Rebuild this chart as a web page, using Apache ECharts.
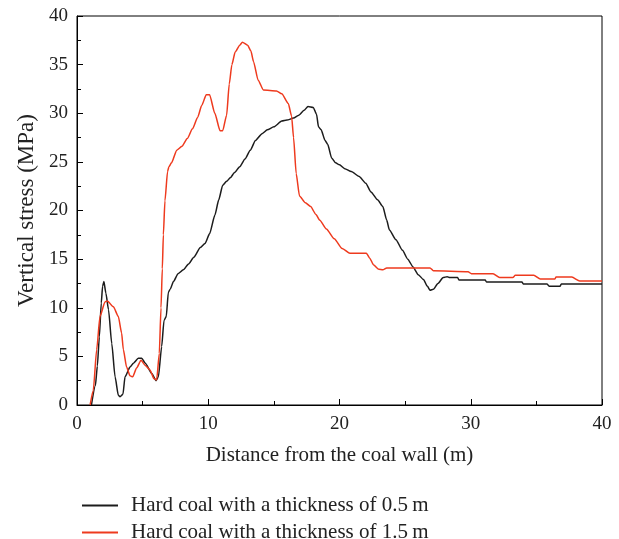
<!DOCTYPE html>
<html>
<head>
<meta charset="utf-8">
<script src="https://cdn.jsdelivr.net/npm/echarts@6/dist/echarts.min.js"></script>
<style>
  html, body { margin: 0; padding: 0; background: #fff; }
  #chart { width: 619px; height: 539px; }
</style>
</head>
<body>
<div id="chart"></div>
<script>
// Vertical stress profiles ahead of the coal wall for two hard-coal thicknesses
const seriesNames = ['Hard coal with a thickness of 0.5\u2009m', 'Hard coal with a thickness of 1.5\u2009m'];
const xTicks = [0, 10, 20, 30, 40];
const yTicks = [0, 5, 10, 15, 20, 25, 30, 35, 40];

// [distance (m), vertical stress (MPa)]
const thin05 = [
  [1.1, 0], [1.4, 2], [1.55, 4], [1.7, 7], [1.85, 10.5], [1.95, 12.2], [2.05, 12.7],
  [2.2, 11.5], [2.4, 9.8], [2.65, 6.3], [2.9, 2.9], [3.15, 1.0], [3.28, 0.85], [3.5, 1.1],
  [3.66, 2.9], [4.04, 3.9], [4.3, 4.3], [4.67, 4.8], [4.93, 4.8], [5.2, 4.3], [5.7, 3.25],
  [6.02, 2.5], [6.2, 2.9], [6.45, 6.0], [6.63, 8.7], [6.8, 9.1], [6.96, 11.6], [7.1, 11.9],
  [7.35, 12.7], [7.7, 13.5], [8.1, 13.9], [8.5, 14.5], [8.9, 15.2], [9.4, 16.2], [9.75, 16.6],
  [10.1, 17.6], [10.5, 19.5], [10.8, 21.1], [11.1, 22.6], [11.4, 23.0], [11.7, 23.4],
  [12.0, 23.9], [12.4, 24.5], [12.8, 25.3], [13.2, 26.2], [13.6, 27.2], [14.1, 27.9],
  [14.5, 28.3], [15.0, 28.6], [15.6, 29.2], [16.0, 29.3], [16.5, 29.5], [16.9, 29.8],
  [17.3, 30.3], [17.6, 30.7], [18.0, 30.6], [18.25, 29.9], [18.4, 28.6], [18.6, 28.3],
  [18.9, 27.2], [19.1, 26.8], [19.4, 25.4], [19.7, 24.9], [20.0, 24.7], [20.4, 24.3],
  [20.9, 24.0], [21.5, 23.5], [22.0, 22.8], [22.4, 21.9], [22.9, 21.1], [23.3, 20.4],
  [23.6, 19.0], [23.8, 18.0], [24.3, 17.0], [24.8, 15.9], [25.2, 15.0], [25.6, 14.2],
  [26.0, 13.4], [26.4, 12.9], [26.7, 12.2], [26.9, 11.8], [27.15, 11.9], [27.5, 12.5],
  [27.9, 13.1], [28.2, 13.2], [28.4, 13.1], [29.0, 13.1], [29.1, 12.85], [31.1, 12.85],
  [31.2, 12.65], [33.9, 12.65], [34.0, 12.45], [35.8, 12.45], [36.0, 12.2], [36.8, 12.2],
  [36.9, 12.45], [40, 12.45]
];

const thick15 = [
  [1.0, 0], [1.24, 1.5], [1.5, 5.7], [1.75, 9.1], [2.13, 10.6], [2.31, 10.7], [2.77, 10.1],
  [3.15, 9.1], [3.4, 7.4], [3.53, 5.7], [3.78, 3.9], [4.04, 3.0], [4.24, 2.9], [4.54, 3.8],
  [4.88, 4.6], [5.18, 4.1], [5.56, 3.6], [5.87, 2.7], [6.07, 2.6], [6.27, 5.3], [6.4, 10],
  [6.5, 14], [6.58, 17.5], [6.7, 21], [6.9, 24], [7.0, 24.5], [7.2, 24.9], [7.6, 26.2],
  [8.0, 26.6], [8.4, 27.4], [8.8, 28.4], [9.2, 29.6], [9.5, 30.8], [9.85, 31.9], [10.1, 31.9],
  [10.5, 30.0], [10.9, 28.2], [11.1, 28.2], [11.4, 29.8], [11.6, 33.0], [11.8, 35.0],
  [12.05, 36.3], [12.4, 37.0], [12.6, 37.3], [13.0, 37.0], [13.25, 36.4], [13.45, 35.3],
  [13.8, 33.4], [14.2, 32.4], [15.2, 32.3], [15.6, 32.0], [16.1, 31.0], [16.35, 29.7],
  [16.5, 27.5], [16.7, 23.8], [16.95, 21.5], [17.4, 20.8], [17.8, 20.4], [18.2, 19.6],
  [18.5, 19.0], [19.0, 18.1], [19.6, 17.1], [20.2, 16.1], [20.8, 15.6], [22.05, 15.6],
  [22.3, 15.1], [22.6, 14.4], [23.0, 13.95], [23.3, 13.9], [23.6, 14.1], [26.9, 14.1],
  [27.15, 13.8], [29.8, 13.7], [30.05, 13.5], [31.7, 13.5], [32.2, 13.1], [33.2, 13.1],
  [33.4, 13.35], [34.8, 13.35], [35.3, 12.95], [36.4, 12.95], [36.5, 13.15], [37.7, 13.15],
  [38.3, 12.75], [40, 12.75]
];

const FONT = '"Liberation Serif", "DejaVu Serif", serif';
const INK = '#222';
const BLACK = '#1c1c1c';
const RED = '#ee3a1e';

const chart = echarts.init(document.getElementById('chart'), null, { renderer: 'canvas' });

const axisCommon = {
  axisLine: { show: true, lineStyle: { color: '#000', width: 1 } },
  axisTick: { show: true, inside: true, length: 6, lineStyle: { color: '#000' } },
  minorTick: { show: true, splitNumber: 2, length: 4, lineStyle: { color: '#000' } },
  splitLine: { show: false },
  axisLabel: { color: INK, fontFamily: FONT, fontSize: 19, margin: 9 },
  nameTextStyle: { color: INK, fontFamily: FONT, fontSize: 21 }
};

// one legend block per series, stacked below the plot
function legendRow(name, top) {
  return {
    orient: 'horizontal',
    left: 77, top: top,
    itemWidth: 36, itemHeight: 2,
    icon: 'rect',
    textStyle: { color: INK, fontFamily: FONT, fontSize: 21, padding: [0, 0, 0, 8] },
    data: [name]
  };
}

chart.setOption({
  animation: false,
  backgroundColor: '#fff',
  grid: {
    left: 77, right: 17, top: 16, bottom: 134,
    show: true, borderColor: '#000', borderWidth: 1, backgroundColor: 'transparent'
  },
  xAxis: Object.assign({}, axisCommon, {
    type: 'value',
    min: xTicks[0], max: xTicks[xTicks.length - 1], interval: xTicks[1] - xTicks[0],
    name: 'Distance from the coal wall (m)',
    nameLocation: 'middle', nameGap: 40,
    axisLabel: Object.assign({}, axisCommon.axisLabel, { margin: 10 })
  }),
  yAxis: Object.assign({}, axisCommon, {
    type: 'value',
    min: yTicks[0], max: yTicks[yTicks.length - 1], interval: yTicks[1] - yTicks[0],
    name: 'Vertical stress (MPa)',
    nameLocation: 'middle', nameGap: 38,
    nameTextStyle: Object.assign({}, axisCommon.nameTextStyle, { fontSize: 23 })
  }),
  legend: [legendRow(seriesNames[0], 490), legendRow(seriesNames[1], 517)],
  series: [
    {
      name: seriesNames[0], type: 'line', data: thin05,
      showSymbol: false, symbol: 'none', smooth: 0.2, smoothMonotone: 'x',
      lineStyle: { color: BLACK, width: 1.5 }, itemStyle: { color: BLACK }
    },
    {
      name: seriesNames[1], type: 'line', data: thick15,
      showSymbol: false, symbol: 'none', smooth: 0.2, smoothMonotone: 'x',
      lineStyle: { color: RED, width: 1.5 }, itemStyle: { color: RED }
    }
  ]
});
</script>
</body>
</html>
